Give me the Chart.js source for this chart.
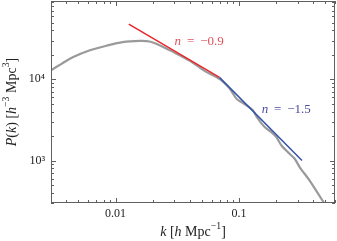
<!DOCTYPE html>
<html>
<head>
<meta charset="utf-8">
<script src="https://cdn.jsdelivr.net/npm/chart.js@4"></script>
<style>
  html, body { margin: 0; padding: 0; background: #fff; }
  #wrap { width: 337px; height: 241px; }
</style>
</head>
<body>
<div id="wrap"><canvas id="pk"></canvas></div>
<script>
// power spectrum
const kValues = [0.003, 0.00365, 0.0045, 0.0062, 0.00845, 0.0114, 0.0157, 0.0189, 0.0227, 0.029,
  0.0398, 0.0527, 0.066, 0.0711, 0.0841, 0.0953, 0.1045, 0.1183, 0.1298, 0.1425, 0.1614, 0.183,
  0.201, 0.221, 0.25, 0.283, 0.311, 0.374, 0.5];
const pValues = [12900, 15500, 18700, 22800, 25900, 28700, 29700, 29200, 26300, 21900,
  17000, 12700, 10600, 9860, 7680, 5780, 5250, 4640, 4140, 3270, 2580, 2240,
  1940, 1530, 1260, 1050, 826, 566, 285];

// power-law guides
const redK = [0.0128, 0.0695];
const redP = [47700, 10550];
const blueK = [0.0695, 0.324];
const blueP = [10550, 1000];

const xTickLabels = [0.01, 0.1];
const yTickLabels = [1000, 10000];
const redNote = { k: 0.0301, p: 29500, text: "−0.9" };
const blueNote = { k: 0.153, p: 4250, text: "−1.5" };

const SERIF = "'Liberation Serif', 'DejaVu Serif', serif";

function toPoints(xs, ys) {
  return xs.map((x, i) => ({ x: x, y: ys[i] }));
}

// 1..9 x each decade, for the minor tick marks
function decadeTicks(min, max) {
  const out = [];
  for (let e = Math.floor(Math.log10(min)); e <= Math.ceil(Math.log10(max)); e++) {
    for (let s = 1; s < 10; s++) {
      const v = +(s * Math.pow(10, e)).toPrecision(3);
      if (v >= min * 0.999 && v <= max * 1.001) out.push(v);
    }
  }
  return out;
}

function isLabelled(list, v) {
  return list.some((t) => Math.abs(t - v) / t < 1e-6);
}

// text made of pieces: italic, upright, superscript
function drawRich(ctx, parts, size) {
  const widths = parts.map((p) => {
    ctx.font = (p.i ? "italic " : "") + (p.sup ? size * 0.7 : size) + "px " + SERIF;
    return ctx.measureText(p.t).width;
  });
  const total = widths.reduce((a, b) => a + b, 0);
  let x = -total / 2;
  parts.forEach((p, i) => {
    ctx.font = (p.i ? "italic " : "") + (p.sup ? size * 0.7 : size) + "px " + SERIF;
    ctx.fillText(p.t, x, p.sup ? -size * 0.38 : 0);
    x += widths[i];
  });
}

const frameAndText = {
  id: "frameAndText",
  afterDraw(chart) {
    const { ctx, chartArea: a, scales } = chart;
    ctx.save();
    ctx.strokeStyle = "#606060";
    ctx.lineWidth = 1;
    ctx.strokeRect(a.left + 0.5, a.top + 0.5, a.right - a.left - 1, a.bottom - a.top - 1);

    ctx.beginPath();
    scales.x.ticks.forEach((t) => {
      const px = Math.round(scales.x.getPixelForValue(t.value)) + 0.5;
      const len = isLabelled(xTickLabels, t.value) ? 5 : 3;
      ctx.moveTo(px, a.bottom); ctx.lineTo(px, a.bottom - len);
      ctx.moveTo(px, a.top); ctx.lineTo(px, a.top + len);
    });
    scales.y.ticks.forEach((t) => {
      const py = Math.round(scales.y.getPixelForValue(t.value)) + 0.5;
      const len = isLabelled(yTickLabels, t.value) ? 5 : 3;
      ctx.moveTo(a.left, py); ctx.lineTo(a.left + len, py);
      ctx.moveTo(a.right, py); ctx.lineTo(a.right - len, py);
    });
    ctx.stroke();

    ctx.fillStyle = "#222";
    ctx.textBaseline = "middle";
    ctx.textAlign = "left";
    ctx.save();
    ctx.translate((a.left + a.right) / 2, 232);
    drawRich(ctx, [
      { t: "k", i: true }, { t: " [" }, { t: "h", i: true }, { t: " Mpc" },
      { t: "−1", sup: true }, { t: "]" },
    ], 14);
    ctx.restore();

    ctx.save();
    ctx.translate(12, (a.top + a.bottom) / 2);
    ctx.rotate(-Math.PI / 2);
    drawRich(ctx, [
      { t: "P", i: true }, { t: "(" }, { t: "k", i: true }, { t: ") [" },
      { t: "h", i: true }, { t: "−3", sup: true }, { t: " Mpc" }, { t: "3", sup: true }, { t: "]" },
    ], 14);
    ctx.restore();

    // slope notes
    [[redNote, "#e0505a"], [blueNote, "#4a4c9c"]].forEach(([n, col]) => {
      const x0 = scales.x.getPixelForValue(n.k);
      const y0 = scales.y.getPixelForValue(n.p);
      ctx.fillStyle = col;
      ctx.font = "italic 13px " + SERIF;
      ctx.fillText("n", x0, y0);
      let w = ctx.measureText("n").width;
      ctx.font = "13px " + SERIF;
      ctx.fillText(" \u2009=\u2009 " + n.text, x0 + w, y0);
    });
    ctx.restore();
  },
};

const ctx = document.getElementById("pk").getContext("2d");
new Chart(ctx, {
  type: "scatter",
  data: {
    datasets: [
      {
        data: toPoints(kValues, pValues),
        showLine: true,
        borderColor: "#9a9a9a",
        borderWidth: 2.2,
        pointRadius: 0,
        tension: 0.25,
        order: 2,
      },
      {
        data: toPoints(redK, redP),
        showLine: true,
        borderColor: "#e8262c",
        borderWidth: 1.5,
        pointRadius: 0,
        order: 0,
      },
      {
        data: toPoints(blueK, blueP),
        showLine: true,
        borderColor: "#3553a6",
        borderWidth: 1.5,
        pointRadius: 0,
        order: 0,
      },
    ],
  },
  options: {
    responsive: true,
    maintainAspectRatio: false,
    animation: false,
    layout: { padding: { top: 1, right: 2, left: 0, bottom: 0 } },
    plugins: { legend: { display: false }, tooltip: { enabled: false } },
    scales: {
      x: {
        type: "logarithmic",
        min: 0.003,
        max: 0.6,
        grid: { display: false, drawTicks: false },
        border: { display: false },
        afterBuildTicks: (s) => { s.ticks = decadeTicks(0.003, 0.6).map((v) => ({ value: v })); },
        afterFit: (s) => { s.height = 38; s.paddingLeft = 0; s.paddingRight = 0; },
        ticks: {
          autoSkip: false,
          maxRotation: 0,
          padding: 4,
          color: "#222",
          font: { family: SERIF, size: 12 },
          callback: (v) => (isLabelled(xTickLabels, v) ? String(v) : ""),
        },
      },
      y: {
        type: "logarithmic",
        min: 300,
        max: 92000,
        grid: { display: false, drawTicks: false },
        border: { display: false },
        afterBuildTicks: (s) => { s.ticks = decadeTicks(300, 92000).map((v) => ({ value: v })); },
        afterFit: (s) => { s.width = 51; s.paddingTop = 0; s.paddingBottom = 0; },
        ticks: {
          autoSkip: false,
          padding: 6,
          color: "#222",
          font: { family: SERIF, size: 12 },
          callback: (v) => (isLabelled(yTickLabels, v) ? "10" + (v === 1000 ? "³" : "⁴") : ""),
        },
      },
    },
  },
  plugins: [frameAndText],
});
</script>
</body>
</html>
